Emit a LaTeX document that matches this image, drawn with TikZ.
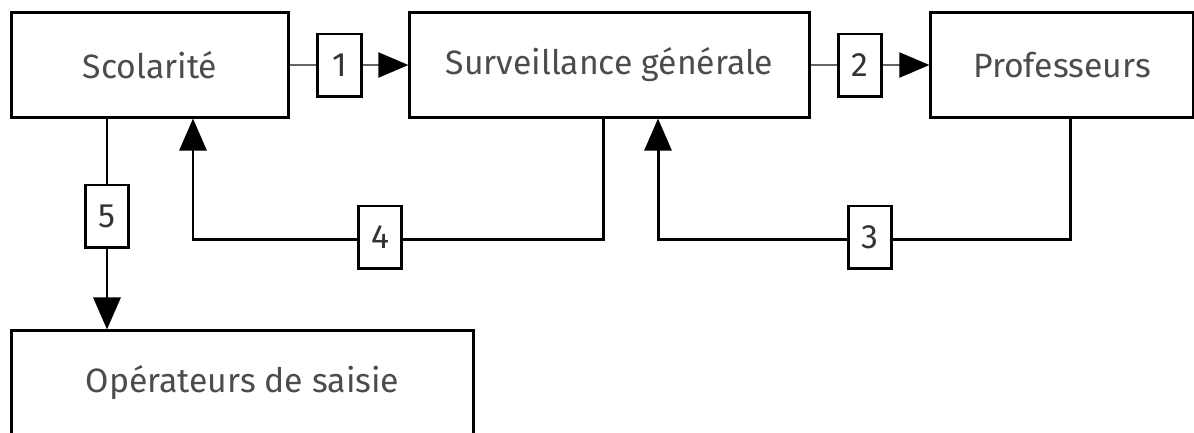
\documentclass[tikz,border=0pt]{standalone}
\usepackage{fontspec}
\setmainfont{Fira Sans}
\usetikzlibrary{arrows.meta, positioning}

\begin{document}
\begin{tikzpicture}[x=0.01cm, y=-0.01cm,
  box/.style={draw, line width=0.85pt, minimum height=1.04cm, text=black!70, font=\fontsize{9.6}{12}\selectfont},
  num/.style={draw, line width=0.85pt, fill=white, minimum width=0.43cm, minimum height=0.62cm, inner sep=0pt, text=black!80, font=\fontsize{9.6}{12}\selectfont},
  flow/.style={line width=0.85pt, -{Triangle[length=3.2mm, width=2.7mm]}},
  feed/.style={line width=0.6pt, draw=black!60, -{Triangle[length=3mm, width=2.5mm, color=black]}}]
\useasboundingbox (0,0) rectangle (1194,432);
\clip (0,0) rectangle (1194,432);

\node[box, minimum width=2.77cm] (scol) at (150,65) {Scolarité};
\node[box, minimum width=3.99cm] (surv) at (609.5,65) {Surveillance générale};
\node[box, minimum width=2.62cm] (prof) at (1062,65) {Professeurs};
\node[box, minimum width=4.61cm] (oper) at (242.5,383) {Opérateurs de saisie};

\node[num] (n1) at (339.5,65) {1};
\node[num] (n2) at (860,65) {2};
\node[num] (n3) at (870,237) {3};
\node[num] (n4) at (380,237) {4};
\node[num] (n5) at (107,216) {5};

\coordinate (k4a) at (603,239);
\coordinate (k4b) at (193,239);
\coordinate (k3a) at (1070,239);
\coordinate (k3b) at (658,239);

\draw[feed, -] (scol) -- (n1);
\draw[feed] (n1) -- (surv);
\draw[feed, -] (surv) -- (n2);
\draw[feed] (n2) -- (prof);

\draw[line width=0.85pt] (k3a |- prof.south) -- (k3a) -- (k3a -| n3.east);
\draw[flow] (k3b -| n3.west) -- (k3b) -- (k3b |- surv.south);

\draw[line width=0.85pt] (k4a |- surv.south) -- (k4a) -- (k4a -| n4.east);
\draw[flow] (k4b -| n4.west) -- (k4b) -- (k4b |- scol.south);

\draw[line width=0.85pt] (scol.south -| n5) -- (n5);
\draw[flow] (n5) -- (oper.north -| n5);
\end{tikzpicture}
\end{document}
